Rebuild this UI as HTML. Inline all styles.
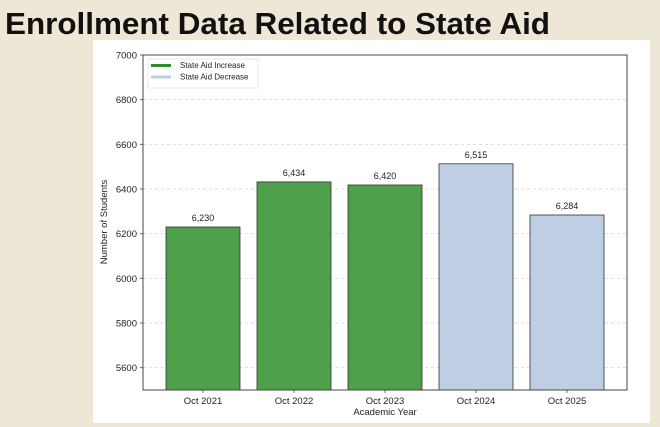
<!DOCTYPE html>
<html><head><style>
html,body{margin:0;padding:0;background:#efe7d6;}
svg{display:block;}
text{font-family:"Liberation Sans",sans-serif;}
</style></head><body>
<svg width="660" height="427" viewBox="0 0 660 427" xmlns="http://www.w3.org/2000/svg">
<rect width="660" height="427" fill="#efe7d6"/>
<text x="5" y="34" font-size="31" font-weight="bold" fill="#111" textLength="545" lengthAdjust="spacingAndGlyphs">Enrollment Data Related to State Aid</text>
<rect x="93" y="40" width="557" height="383" fill="#fff"/>
<g stroke="#ccc" stroke-dasharray="3,3" stroke-width="0.7">
<line x1="143" x2="627" y1="99.7" y2="99.7"/>
<line x1="143" x2="627" y1="144.3" y2="144.3"/>
<line x1="143" x2="627" y1="189" y2="189"/>
<line x1="143" x2="627" y1="233.7" y2="233.7"/>
<line x1="143" x2="627" y1="278.3" y2="278.3"/>
<line x1="143" x2="627" y1="323" y2="323"/>
<line x1="143" x2="627" y1="367.7" y2="367.7"/>
</g>
<g stroke="#333" stroke-width="0.8">
<rect x="166" y="227" width="74" height="163" fill="#4ea04b"/>
<rect x="257" y="181.9" width="74" height="208.1" fill="#4ea04b"/>
<rect x="348" y="185" width="74" height="205" fill="#4ea04b"/>
<rect x="439" y="163.8" width="74" height="226.2" fill="#bfcfe3"/>
<rect x="530" y="215" width="74" height="175" fill="#bfcfe3"/>
</g>
<g font-size="9" fill="#222" text-anchor="middle">
<text x="203" y="221">6,230</text>
<text x="294" y="176">6,434</text>
<text x="385" y="179">6,420</text>
<text x="476" y="158">6,515</text>
<text x="567" y="209">6,284</text>
</g>
<rect x="143" y="55" width="484" height="335" fill="none" stroke="#444" stroke-width="1"/>
<g font-size="9.5" fill="#222" text-anchor="end">
<text x="137" y="58.5">7000</text>
<text x="137" y="103">6800</text>
<text x="137" y="148">6600</text>
<text x="137" y="192.5">6400</text>
<text x="137" y="237">6200</text>
<text x="137" y="282">6000</text>
<text x="137" y="326.5">5800</text>
<text x="137" y="371">5600</text>
</g>
<g stroke="#444" stroke-width="0.8">
<line x1="140" x2="143" y1="55" y2="55"/><line x1="140" x2="143" y1="99.7" y2="99.7"/>
<line x1="140" x2="143" y1="144.3" y2="144.3"/><line x1="140" x2="143" y1="189" y2="189"/>
<line x1="140" x2="143" y1="233.7" y2="233.7"/><line x1="140" x2="143" y1="278.3" y2="278.3"/>
<line x1="140" x2="143" y1="323" y2="323"/><line x1="140" x2="143" y1="367.7" y2="367.7"/>
<line x1="203" x2="203" y1="390" y2="393"/><line x1="294" x2="294" y1="390" y2="393"/>
<line x1="385" x2="385" y1="390" y2="393"/><line x1="476" x2="476" y1="390" y2="393"/>
<line x1="567" x2="567" y1="390" y2="393"/>
</g>
<g font-size="9.5" fill="#222" text-anchor="middle">
<text x="203" y="404">Oct 2021</text>
<text x="294" y="404">Oct 2022</text>
<text x="385" y="404">Oct 2023</text>
<text x="476" y="404">Oct 2024</text>
<text x="567" y="404">Oct 2025</text>
<text x="385" y="415">Academic Year</text>
<text transform="translate(107,222) rotate(-90)">Number of Students</text>
</g>
<rect x="148" y="59" width="110" height="29" fill="#fff" stroke="#ddd" stroke-width="0.7"/>
<line x1="151" x2="171" y1="65.5" y2="65.5" stroke="#2a8f2a" stroke-width="3"/>
<line x1="151" x2="171" y1="77" y2="77" stroke="#bfcfe3" stroke-width="3"/>
<g font-size="8" fill="#222">
<text x="180" y="68">State Aid Increase</text>
<text x="180" y="79.5">State Aid Decrease</text>
</g>
</svg>
</body></html>
